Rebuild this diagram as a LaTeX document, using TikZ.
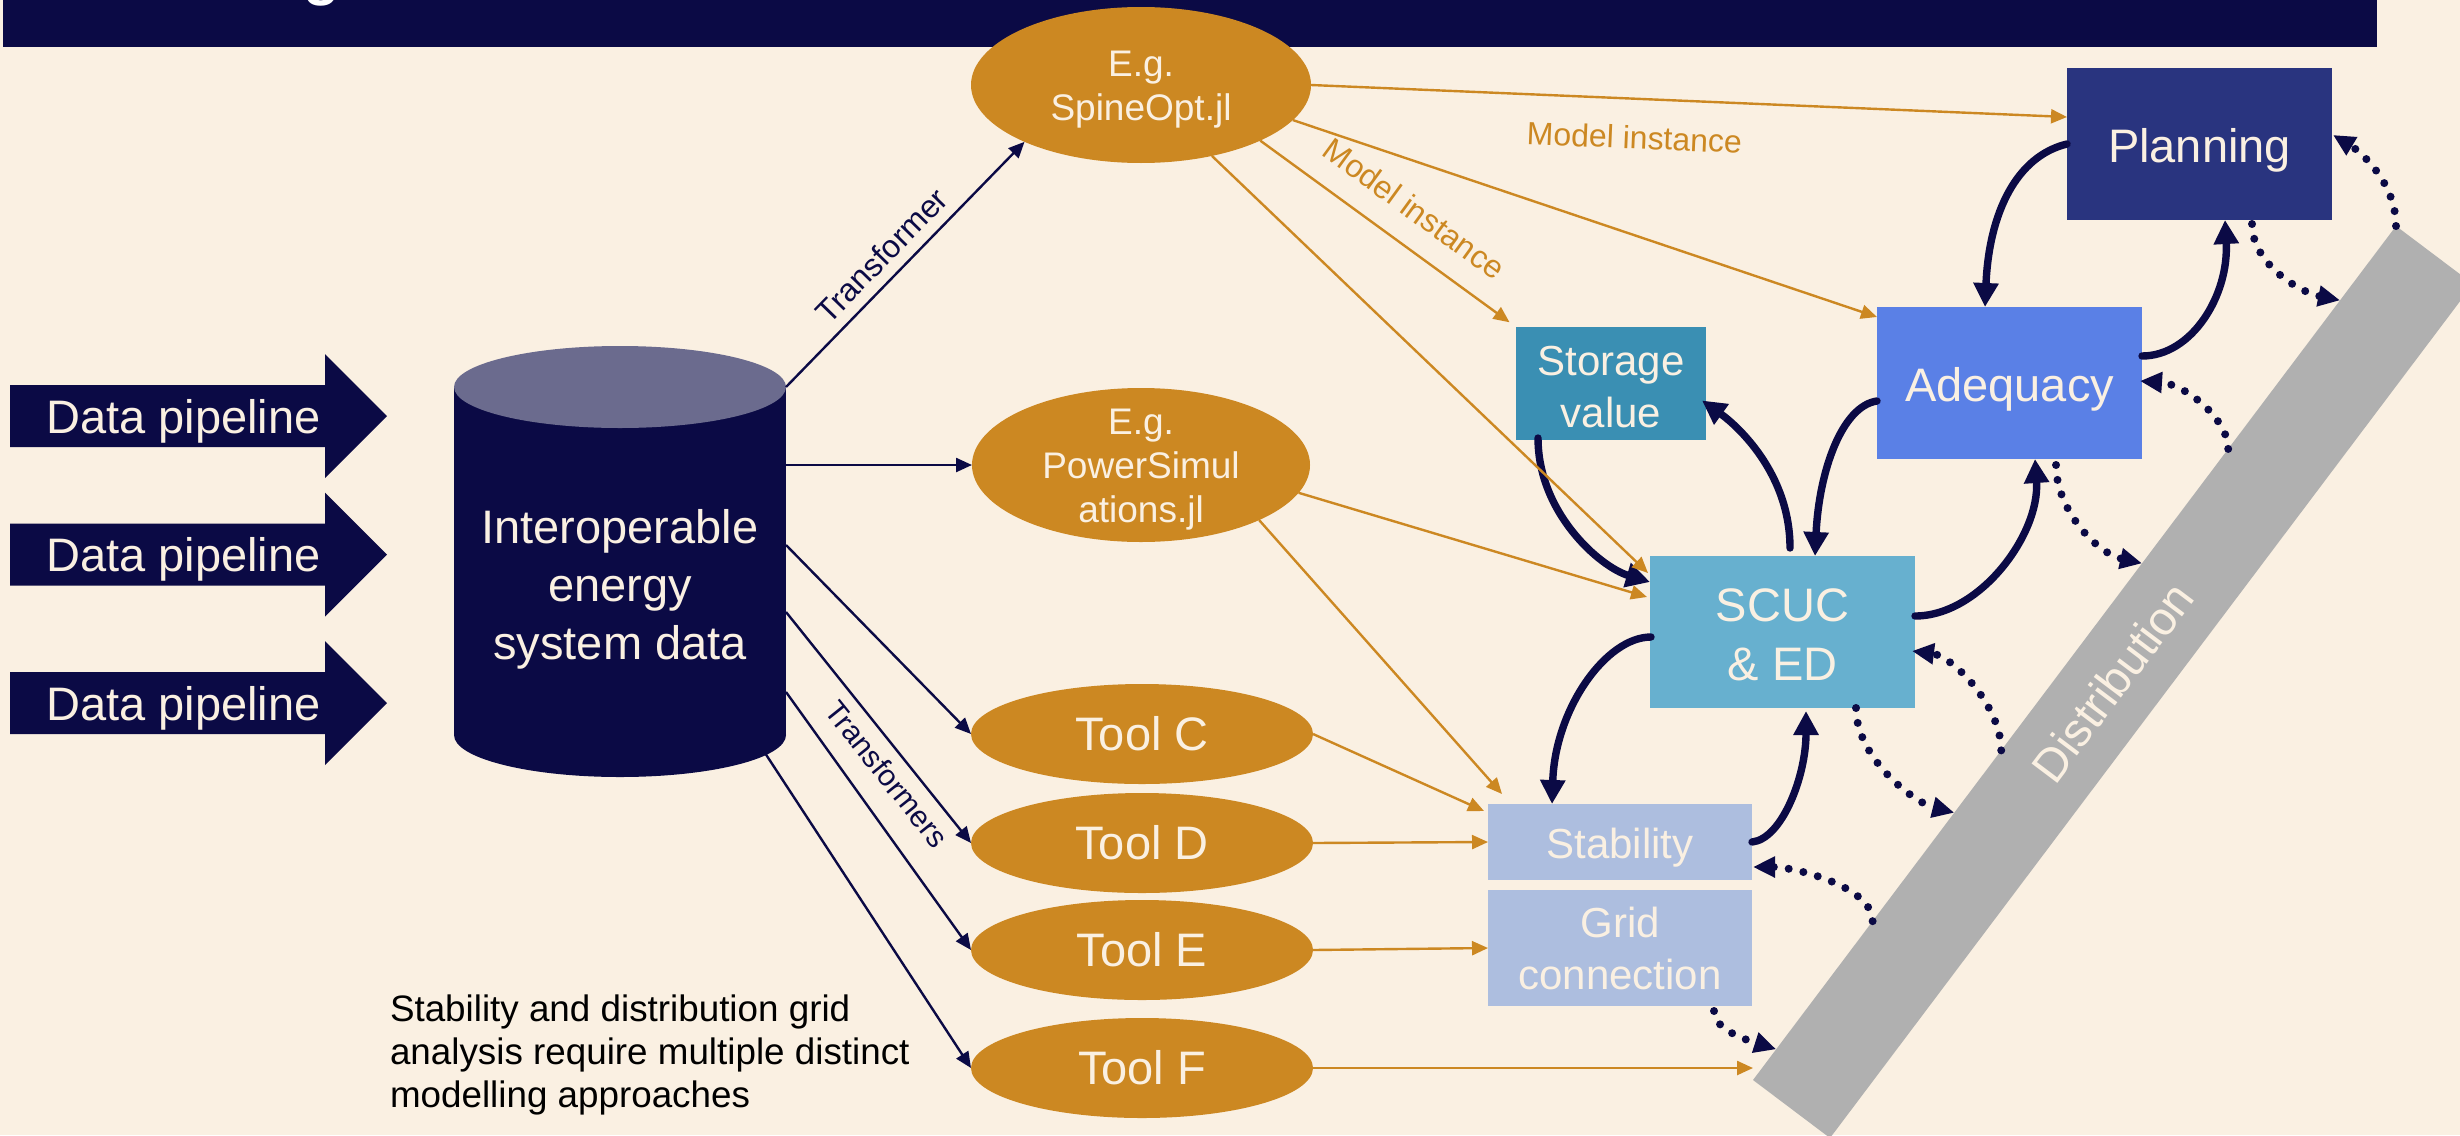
\documentclass[tikz,border=0pt]{standalone}
\usepackage{fontspec}
\setmainfont{Liberation Sans}
\usetikzlibrary{arrows.meta,calc,shapes.geometric}

\definecolor{bg}{HTML}{FAF0E2}
\definecolor{navy}{HTML}{0B0A45}
\definecolor{ochre}{HTML}{CC8822}
\definecolor{dbtop}{HTML}{6B6B8E}
\definecolor{planc}{HTML}{29347F}
\definecolor{adeqc}{HTML}{5A80E6}
\definecolor{storc}{HTML}{3A8FB3}
\definecolor{scucc}{HTML}{67B0CF}
\definecolor{stabc}{HTML}{ADBEDF}
\definecolor{bandc}{HTML}{B0B0B0}
\definecolor{cream}{HTML}{FAF0E2}

\begin{document}
\begin{tikzpicture}[x=0.5pt,y=-0.5pt,
  every node/.style={inner sep=0pt, outer sep=0pt},
  box/.style={rectangle, draw=none},
  boxtext/.style={text=cream, align=center},
  tool/.style={ellipse, fill=ochre, text=cream, minimum width=171pt, minimum height=50pt, font=\fontsize{23.5}{28}\selectfont},
  model/.style={ellipse, fill=ochre, minimum width=170pt, minimum height=78pt},
  modeltext/.style={text=cream, align=center, font=\fontsize{18.5}{22}\selectfont, yshift=-2.5pt},
  fbig/.style={font=\fontsize{23.5}{29.5}\selectfont},
  fmid/.style={font=\fontsize{21}{26}\selectfont},
  navyarrow/.style={draw=navy, line width=1.2pt, -{Triangle[length=8pt,width=7pt]}},
  ochrearrow/.style={draw=ochre, line width=1.2pt, -{Triangle[length=8pt,width=7pt]}},
  boldlink/.style={draw=navy, line width=3.7pt, line cap=round, -{Triangle[length=12pt,width=12pt]}},
  dotlink/.style={draw=navy, line width=4pt, line cap=round, dash pattern=on 0pt off 7.5pt, -{Triangle[length=11pt,width=10pt]}},
  linklabel/.style={font=\fontsize{16}{19}\selectfont, sloped},
]
% canvas
\fill[bg] (0,0) rectangle (2460,1135);
\useasboundingbox (0,0) rectangle (2460,1135);

% title bar
\fill[navy] (3,0) rectangle (2377,47);
\begin{scope}
  \clip (3,0) rectangle (2377,47);
  \node[anchor=base, text=white, font=\bfseries\fontsize{30}{36}\selectfont] (titleg) at (322,-6) {g};
\end{scope}

% distribution band
\coordinate (bandA) at (1753,1080);
\coordinate (bandB) at (2396,226);
\fill[bandc] (bandA) -- (bandB) -- ($(bandB)+(77,58)$) -- ($(bandA)+(77,58)$) -- cycle;
\node[rotate=53, text=cream, font=\fontsize{23.5}{28}\selectfont] (distlabel)
  at ($(bandA)!0.5!(bandB)+(38,29)$) {Distribution};

% data pipelines
\foreach \yc [count=\i] in {416,554.5,703} {
  \fill[navy] (10,\yc-31) -- (325,\yc-31) -- (325,\yc-62) -- (387,\yc)
     -- (325,\yc+62) -- (325,\yc+31) -- (10,\yc+31) -- cycle;
  \node[anchor=base, text=cream, fbig] (pipe\i) at (183.5,\yc+17) {Data pipeline};
}

% database cylinder
\fill[navy] (620,735) ellipse[x radius=166, y radius=42];
\fill[navy] (454,387) rectangle (786,735);
\fill[dbtop] (620,387) ellipse[x radius=166, y radius=41];
\node[minimum width=166pt, minimum height=174pt] (db) at (620,561) {};
\node[text=cream, align=center, font=\fontsize{23.5}{29}\selectfont] (dbtext) at (620,589)
  {Interoperable\\energy\\system data};

% modelling tools
\node[model, label={[modeltext]center:E.g.\\SpineOpt.jl}] (spine) at (1141,85) {};
\node[model, minimum width=169pt, minimum height=77pt,
      label={[modeltext]center:E.g.\\PowerSimul\\ations.jl}] (psim) at (1141,465) {};
\node[tool] (toolC) at (1142,734) {Tool C};
\node[tool] (toolD) at (1142,843) {Tool D};
\node[tool] (toolE) at (1142,950) {Tool E};
\node[tool] (toolF) at (1142,1068) {Tool F};

% analysis boxes
\node[box, fill=planc, minimum width=132.5pt, minimum height=76pt,
      label={[boxtext, fbig, yshift=-3.1pt]center:Planning}] (plan) at (2199.5,144) {};
\node[box, fill=adeqc, minimum width=132.5pt, minimum height=76pt,
      label={[boxtext, fbig, yshift=-3.1pt]center:Adequacy}] (adeq) at (2009.5,383) {};
\node[box, fill=storc, minimum width=95pt, minimum height=56.5pt,
      label={[boxtext, fmid, yshift=-2pt]center:Storage\\value}] (stor) at (1611,383.5) {};
\node[box, fill=scucc, minimum width=132.5pt, minimum height=76pt,
      label={[boxtext, fbig, yshift=-1.2pt]center:SCUC\\\& ED}] (scuc) at (1782.5,632) {};
\node[box, fill=stabc, minimum width=132pt, minimum height=38pt,
      label={[boxtext, fmid, yshift=-2.8pt]center:Stability}] (stab) at (1620,842) {};
\node[box, fill=stabc, minimum width=132pt, minimum height=58pt,
      label={[boxtext, fmid]center:Grid\\connection}] (grid) at (1620,948) {};

% transformers from the database
\draw[navyarrow] (db.north east) -- (spine.-154)
  node[linklabel, pos=0.47, above=5.8pt, text=navy] (trlabel) {Transformer};
\draw[navyarrow] (db.north east |- psim.west) -- (psim.west);
\draw[navyarrow] ($(db.north east)+(0,158)$) -- (toolC.west);
\draw[navyarrow] ($(db.north east)+(0,225)$) -- (toolD.west)
  node[linklabel, pos=0.64, below=5.8pt, text=navy, font=\fontsize{15}{18}\selectfont] (trslabel) {Transformers};
\draw[navyarrow] ($(db.north east)+(0,305)$) -- (toolE.west);
\draw[navyarrow] ($(db.south east)+(-21,18)$) -- (toolF.west);

% interactions between analyses
\draw[boldlink] (plan.west) .. controls +(-50,12) and +(4,-95) .. ($(adeq.north)+(-24.5,0)$);
\draw[boldlink] ($(adeq.east)+(0,-27)$) .. controls +(50,0) and +(4,75) .. ($(plan.south)+(25.5,0)$);
\draw[boldlink] ($(adeq.west)+(0,18)$) .. controls +(-35,5) and +(4,-85) .. ($(scuc.north)+(32.5,0)$);
\draw[boldlink] ($(scuc.east)+(0,-16)$) .. controls +(65,0) and +(5,75) .. ($(adeq.south)+(25.5,0)$);
\draw[boldlink] ($(scuc.north)+(7.5,-8)$) .. controls +(0,-75) and +(35,25) .. ($(stor.east)+(-4,17)$);
\draw[boldlink] ($(stor.south west)+(22,-2)$) .. controls +(0,75) and +(-50,-15) .. ($(scuc.west)+(0,-50)$);
\draw[boldlink] ($(scuc.west)+(1,5)$) .. controls +(-45,0) and +(3,-95) .. ($(stab.north)+(-68,0)$);
\draw[boldlink] (stab.east) .. controls +(30,-3) and +(0,65) .. ($(scuc.south)+(23.5,3)$);

% model instances
\draw[ochrearrow] (spine.east) -- ($(plan.west)+(0,-27)$)
  node[linklabel, pos=0.43, below=13.4pt, text=ochre] (milabelA) {Model instance};
\draw[ochrearrow, shorten >=4pt] (spine.-25) -- (stor.north west)
  node[linklabel, pos=0.52, above=12pt, text=ochre] (milabelB) {Model instance};
\draw[ochrearrow] (spine.-13) -- ($(adeq.north west)+(0,10)$);
\draw[ochrearrow] (spine.-45) -- ($(scuc.north west)+(-2,17)$);
\draw[ochrearrow] (psim.-10) -- ($(scuc.north west)+(-3,41)$);
\draw[ochrearrow] (psim.-25) -- ($(stab.north west)+(14,-10)$);
\draw[ochrearrow] (toolC.east) -- ($(stab.north west)+(-4,7)$);
\draw[ochrearrow] (toolD.east) -- (stab.west);
\draw[ochrearrow] (toolE.east) -- (grid.west);
\draw[ochrearrow] (toolF.east) -- (toolF -| bandA);

% exchanges with the distribution level
\draw[dotlink] ($(plan.south)+(52.5,4)$) .. controls +(0,40) and +(-40,-8) .. ($(bandA)!0.913!(bandB)$);
\draw[dotlink] (bandB) .. controls +(0,-45) and +(25,15) .. ($(plan.east)+(1,-9)$);
\draw[dotlink] ($(adeq.south)+(46.5,6)$) .. controls +(0,45) and +(-45,-10) .. ($(bandA)!0.605!(bandB)$);
\draw[dotlink] ($(bandA)!0.739!(bandB)$) .. controls +(0,-30) and +(45,3) .. ($(adeq.east)+(-2,-2)$);
\draw[dotlink] ($(scuc.south)+(73.5,0)$) .. controls +(0,50) and +(-40,-10) .. ($(bandA)!0.313!(bandB)$);
\draw[dotlink] ($(bandA)!0.386!(bandB)$) .. controls +(0,-45) and +(40,5) .. ($(scuc.east)+(-3,19)$);
\draw[dotlink] ($(bandA)!0.186!(bandB)$) .. controls +(0,-35) and +(40,0) .. ($(stab.east)+(1,25)$);
\draw[dotlink] ($(grid.south)+(94,5)$) .. controls +(0,20) and +(-25,-8) .. ($(bandA)!0.036!(bandB)$);

% note
\node[anchor=base west, align=left, text=black, font=\fontsize{18.4}{21.5}\selectfont] (note) at (390,1107)
  {Stability and distribution grid\\analysis require multiple distinct\\modelling approaches};
\end{tikzpicture}
\end{document}
